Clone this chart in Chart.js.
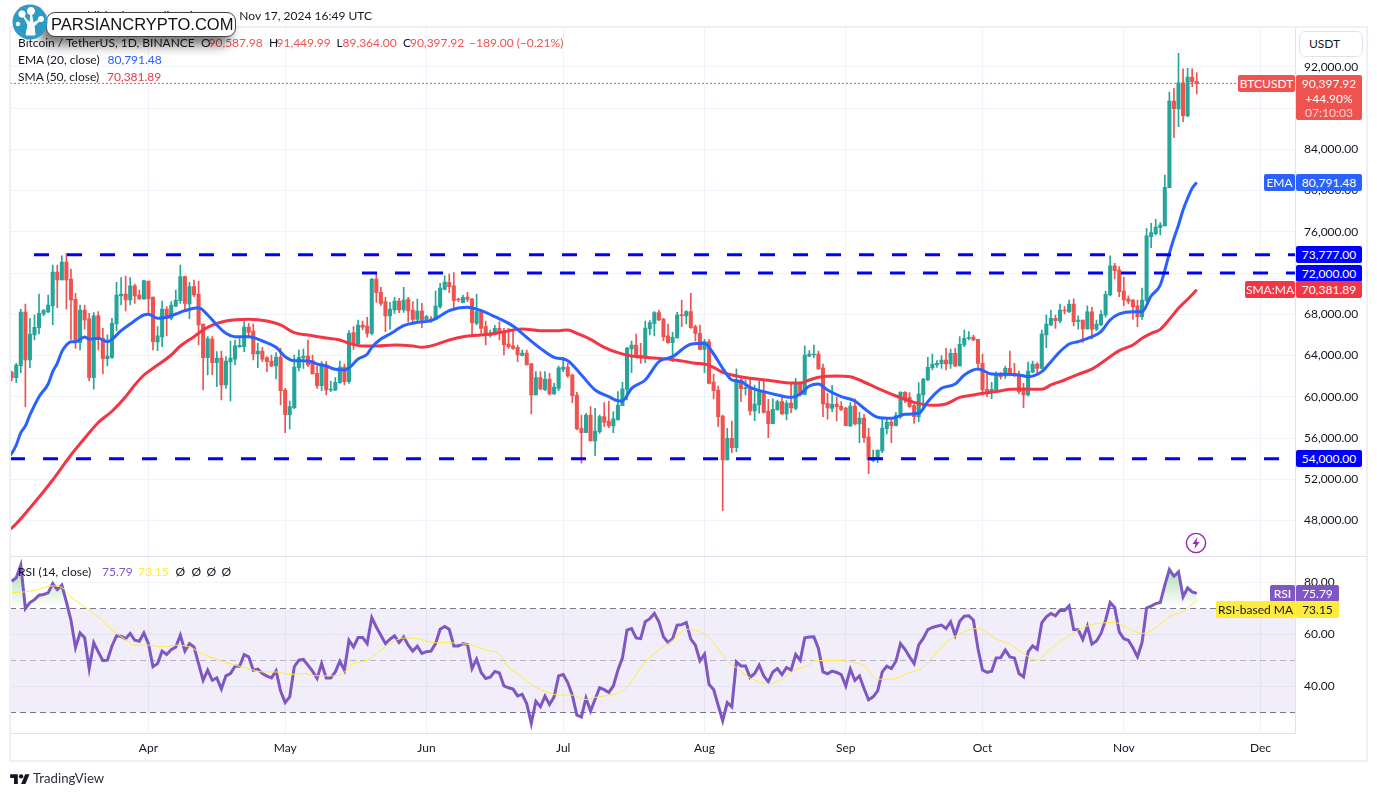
<!DOCTYPE html>
<html><head><meta charset="utf-8">
<style>
html,body{margin:0;padding:0;background:#fff;width:1377px;height:796px;overflow:hidden}
canvas{position:absolute;left:0;top:0}
.t{position:absolute;white-space:nowrap;font:12px/17px Lato,"Noto Sans",sans-serif;color:#131722}
.b{position:absolute;white-space:nowrap;font:12px/17px Lato,"Noto Sans",sans-serif;color:#fff;text-align:center;height:17px}
.r{color:#ef5350}
.frame{position:absolute;background:#eef0f6}
</style></head><body>
<canvas id="main" width="1377" height="796"></canvas>
<canvas id="rsi" width="1377" height="796"></canvas>
<script src="https://cdn.jsdelivr.net/npm/chart.js@4/dist/chart.umd.min.js"></script>
<script>
// Daily candles, day 0 = 2 Mar 2024 ... day 260 = 17 Nov 2024
const opens=[62370,61850,63020,68220,63570,66000,66700,68030,68220,68840,72100,71330,73070,71420,69450,65250,68420,67550,61850,67840,65670,63700,63830,67060,69780,69970,69390,70750,69870,69480,71230,69680,65320,65800,68510,67610,68800,69320,71650,69000,70680,69970,67060,63790,65600,63310,63760,61140,63380,63660,64860,64860,66770,66380,64150,64440,63790,63470,62990,63860,60660,58270,58940,62830,63760,63960,63500,62280,61080,63080,60660,60630,61370,62890,61470,
66220,65120,66960,66860,66150,71420,70130,69230,67840,68420,69290,68420,69450,68420,67510,68320,67450,67510,67510,68740,70420,71100,70750,69450,69160,69680,69480,67120,68260,66800,65930,66060,66640,66320,65120,64930,64800,64020,64250,63210,60170,61860,60690,61720,60270,60820,62660,62890,62110,60170,56940,56520,58230,55710,56620,58070,57650,57170,57750,59140,60720,64640,65020,64050,63890,66610,67120,68160,67540,65900,65250,65730,67930,67840,68260,
66800,66150,64600,65320,61430,60660,58140,53870,55970,55070,61630,60790,60880,58620,59200,60560,58620,57390,58720,59530,58330,59400,58880,61210,60240,63950,64050,64150,62790,59370,58880,59300,59110,58910,57170,59110,57360,57940,56100,53800,54100,54740,56910,57550,57200,58070,60430,59950,59140,58070,60170,61630,62820,63080,63210,63570,63180,64210,62990,65020,65670,65800,65570,63240,
60720,60600,60660,62180,62020,62760,62210,62120,60660,60170,62410,63180,62760,65990,66960,67610,67350,68420,68260,69000,67320,67450,66580,68230,66550,66960,67940,69870,72690,72300,70260,69490,69390,68810,67770,69330,75530,75820,76400,76570,80290,88690,87920,90440,87240,91020,90587.98];
const highs=[62500,63245,68480,69000,67610,67930,69970,68480,69870,72780,72780,73660,73910,72390,70030,68900,68900,68090,68160,68260,66640,66000,67610,71100,71550,71710,71550,70940,70360,71330,71230,69680,66800,69290,68740,69230,70360,72780,71710,71100,71330,71230,67060,65830,65830,64380,64440,63890,65410,65510,65670,67290,67120,67060,65180,64800,63890,64050,64280,64700,60820,59590,64050,64540,64630,65510,64050,62990,63410,63410,61530,61860,63470,63180,66410,
66800,67450,67350,67710,71490,72040,70620,69650,69160,69650,69550,70620,69650,69230,69480,69060,67900,67770,70260,71000,71720,71910,72040,69580,69870,70130,69550,69970,68480,67350,66480,66930,67290,66640,66640,66410,65020,64540,64540,63210,62440,62440,62440,62280,61300,62990,63830,63240,62210,60430,58230,58400,59040,58880,58230,59430,59590,58560,60500,61400,64800,65410,66090,65190,67350,67380,68260,68420,67610,67060,66250,68190,69390,68350,70030,
66960,66960,65570,65570,62210,61050,58230,56940,57650,62700,61790,61630,61790,61140,61530,61630,59750,59790,59690,60170,59620,61370,61790,61300,64930,64470,65020,64440,63180,60340,61110,59950,59530,58980,59430,59790,58490,58300,56940,54840,54840,58010,57910,58010,58490,60500,60500,60400,59300,61370,61790,63830,64150,63500,63990,64700,64630,64700,65830,66480,66320,65990,65570,64150,
62280,61400,62430,62340,62990,64440,63250,62500,61310,63370,63470,63310,66480,67930,68420,67930,69000,68740,69390,69490,67840,67450,68810,68680,67450,68360,70260,73660,72950,72620,71620,69780,69450,69390,70550,76340,76830,77210,76890,81510,89560,89920,93310,91800,91860,91800,91449.99];
const lows=[61530,61370,62340,59040,62830,65510,66090,67840,68160,67000,68640,71330,68510,65570,64700,64540,66570,61530,60750,64540,62210,62990,63730,66380,68900,68320,68900,69060,69450,69450,67930,64540,64470,64860,65900,67450,68740,69060,68260,67580,69710,65020,60660,62110,62110,60980,59690,60820,59590,63080,64800,64380,65770,63570,62830,63410,62440,62920,61730,59200,56520,56880,58850,62500,62760,62920,62210,60820,60590,60170,60500,60590,61300,61140,61300,
64600,65120,66480,65770,65990,69160,68840,66320,66570,68090,68160,68190,67250,67060,67220,66700,67380,67220,67510,68580,70360,70100,68420,69230,69100,69230,65990,66960,66150,65020,65770,65990,65510,64050,64700,64600,63410,63960,63080,58330,60170,60660,60590,60170,60240,60590,62440,61890,59430,56780,53550,56520,55710,54290,56450,57100,57000,56520,57750,59140,59690,62340,63800,63240,63310,65990,65900,67380,65410,65180,63410,65670,66800,67060,66640,
65410,64540,62340,61240,59790,57100,48960,53870,54580,54680,59530,60170,58230,57680,58400,58400,56030,57360,58720,58300,57750,58460,58720,60080,60170,63890,63800,62660,58070,57840,58560,57650,58650,57200,57100,57260,55550,55580,52540,53710,53610,54580,56390,55550,57170,57910,59430,58980,57420,57590,58880,61560,62600,62860,62760,62600,62760,62920,62990,64860,65510,65440,62860,60170,
60010,59820,60600,61700,61790,62020,61950,60270,58950,60080,62340,62120,62760,64770,66900,66640,67190,68030,68160,66870,66550,65280,66550,65610,66410,66900,67710,69780,71430,69710,68840,69000,67510,66800,67510,69230,74470,75700,75700,76570,80290,85140,86200,86690,87170,90080,89364];
const closes=[61850,63080,68220,63570,66090,66740,68090,68350,68900,72100,71330,73070,71330,69390,65350,68420,67450,61850,67840,65570,63700,63960,67120,69870,69970,69390,70750,69780,69480,71260,69480,65350,65900,68510,67610,68900,69390,71650,69060,70680,69870,66960,63790,65640,63310,63760,61140,63470,63760,64930,64990,66770,66250,64150,64440,63660,63410,62990,63860,60590,58270,59040,62890,63830,63960,63080,62210,61080,63180,60660,60750,61400,62890,61470,66150,
65180,66960,66740,66150,71420,70100,69060,67840,68510,69290,68420,69390,68320,67510,68320,67450,67770,67450,68800,70550,71130,70680,69320,69390,69650,69450,67190,68260,66640,66090,66090,66640,66220,65060,64860,64700,64050,64250,63080,60170,61860,60760,61720,60270,60950,62820,62890,62020,60110,56880,56520,58230,55710,56680,58070,57520,57170,57850,59200,60760,64730,65020,63890,63830,66670,67190,68160,67450,65800,65250,65770,67930,67870,68260,66700,
66150,64600,65350,61300,60590,58070,53870,55970,55070,61690,60790,60880,58620,59300,60560,58490,57390,58780,59530,58330,59400,58910,61210,60170,64050,64150,64150,62700,59300,58910,59270,59040,58780,57200,59110,57360,57940,56030,53870,54130,54840,56970,57550,57200,58170,60430,59820,59040,58070,60270,61720,62860,63180,63240,63570,63180,64210,62990,65090,65670,65770,65510,63240,60660,
60530,60720,62180,61950,62760,62120,62080,60500,60170,62500,63180,62760,66090,67060,67610,67390,68420,68320,69000,67290,67450,66580,68230,66550,67060,68000,69940,72690,72230,70200,69390,69260,68740,67770,69390,75600,75920,76470,76660,80320,88690,87950,90440,87270,91020,90570,90397.92];

const emaDays=[-1,0,1,2,3,4,6,8,9,10,11,12,13,14,16,17,19,21,22,24,26,28,29,30,32,34,36,38,41,43,45,47,49,52,55,58,60,62,65,67,69,71,73,74,76,78,79,81,83,86,89,92,94,96,100,103,106,110,113,116,119,122,125,128,131,133,134,136,139,142,145,149,152,154,156,158,160,162,165,168,171,173,175,177,179,182,185,187,190,193,196,199,201,204,207,209,212,215,218,221,223,226,228,230,232,234,237,239,241,243,246,248,250,252,254,255,256,257,258,259,260];
const emaValues=[54100,54515,55325,56520,57166,58234,60012,61240,62437,63245,64377,65023,65346,65346,65800,65605,65670,65346,65573,66413,67060,67693,67933,67997,67610,67707,68030,68353,68644,67933,66963,66155,65831,65831,65411,64797,63891,63503,63471,63180,62986,62663,62598,62800,63665,64118,64797,65605,66090,66898,67221,67383,67836,68353,68676,68353,67771,66866,65766,64699,63826,63503,62113,60658,60012,59624,59600,60820,61628,63406,63891,65100,65184,64150,62760,61628,61467,60917,60496,60173,59947,60270,61046,61240,60658,60012,59591,58880,58007,57910,58298,58395,59527,60819,61240,62113,62695,62212,62180,62115,61953,62439,63408,64379,65122,65348,65833,66318,67450,68032,68258,68258,69777,70844,73916,75371,76664,78119,79250,80220,80791.48];
const smaDays=[-1,0,4,9,13,16,19,22,25,27,29,31,35,37,40,42,44,47,52,56,59,62,65,68,72,74,77,80,84,88,90,93,96,99,103,107,110,112,116,120,122,124,127,130,133,136,140,144,148,150,152,154,156,158,162,166,170,173,175,177,181,184,186,190,194,198,202,205,208,211,213,216,219,222,226,228,231,234,237,240,243,246,248,250,252,254,256,258,260];
const smaValues=[47000,47271,49210,51930,54354,55971,57500,58600,60011,61143,62113,62760,64053,64926,65831,66474,66950,67351,67512,67351,66963,66219,65993,65767,65508,65185,64926,64926,65023,64926,64797,65055,65508,65831,65993,66219,66478,66575,66413,66413,66478,66154,65573,64797,64279,63956,63794,63665,63406,63245,63180,62857,62372,62113,61790,61596,61369,61337,61628,61887,62016,61951,61628,60820,60076,59462,59171,59300,59947,60173,60337,60499,60726,60758,60726,61145,61630,62180,62690,63570,64476,65025,65672,66156,66544,67515,68581,69454,70381.89];

const rsiValues=[80.5,81.8,86.7,70.0,72.3,73.4,75.1,75.4,76.0,79.6,77.3,79.0,72.5,65.5,55.0,60.6,58.8,46.9,56.8,53.3,49.9,50.1,55.6,59.5,59.3,58.4,60.4,57.8,57.4,60.6,56.5,47.6,48.8,53.6,52.3,54.2,55.2,59.7,53.6,56.5,55.2,48.8,42.4,46.3,42.4,43.3,39.0,44.1,45.0,47.8,47.8,52.3,51.4,46.3,46.7,45.0,44.0,43.3,46.0,38.2,33.8,36.0,47.6,50.1,50.4,48.2,45.9,43.1,48.8,43.3,43.3,45.6,49.7,46.3,57.8,55.2,58.8,58.8,56.5,66.5,62.9,59.7,56.5,58.2,59.5,56.9,59.1,55.9,53.6,55.5,52.7,53.4,53.6,56.5,62.0,63.1,62.0,55.6,55.6,
56.5,56.1,46.9,50.5,45.4,43.1,43.6,45.8,45.2,40.2,39.5,39.0,36.4,37.0,33.4,25.8,34.3,32.2,36.3,33.1,36.0,44.1,44.6,41.5,36.7,29.0,28.3,35.6,30.6,35.1,39.5,38.8,37.7,40.2,46.3,51.0,61.7,62.3,58.7,58.4,64.9,66.1,68.1,64.9,59.1,56.9,58.4,63.6,63.8,64.6,58.2,55.9,49.9,52.4,40.8,38.8,32.8,26.8,33.8,32.2,49.5,47.9,47.9,43.5,45.0,48.2,44.1,41.8,45.6,46.9,44.6,47.3,46.3,52.3,50.1,58.7,59.0,59.1,54.6,45.6,44.9,45.9,45.4,44.6,40.2,46.7,42.4,44.1,39.2,34.9,36.0,38.3,45.6,47.8,46.9,49.7,56.5,54.3,51.4,48.8,
56.0,58.5,61.9,62.7,63.2,63.6,62.3,64.9,59.7,65.1,67.0,67.2,65.5,54.6,46.3,45.4,45.9,51.0,51.1,54.0,51.4,51.0,45.0,43.7,53.3,55.6,54.3,64.5,66.8,68.1,67.2,69.3,69.2,71.0,61.9,61.8,58.1,63.2,56.3,57.5,60.4,65.5,72.3,70.4,61.0,58.4,57.8,54.9,51.4,56.9,70.2,70.9,71.9,72.3,79.0,85.0,82.4,84.1,74.5,77.9,76.4,75.79];
const maDays=[0,3,5,9,11,13,16,19,22,25,27,30,33,36,39,42,45,49,52,55,58,61,64,67,71,73,75,78,81,83,86,89,93,95,98,101,104,107,109,112,114,117,120,123,126,128,131,134,136,139,142,145,148,152,155,157,159,162,166,169,172,175,176,181,185,187,190,193,197,199,200,204,207,212,216,219,222,225,228,232,236,242,245,248,251,254,257,260];
const maValues=[76.1,76.4,77.0,78.7,78.1,74.5,70.6,66.8,61.7,58.1,55.9,55.9,55.2,55.9,55.2,52.4,50.4,48.2,46.9,45.6,45.6,44.6,45.0,44.1,44.1,45.6,48.8,50.1,54.0,56.5,58.7,58.4,56.8,56.9,56.6,55.9,54.0,52.4,47.5,43.7,40.8,38.2,36.7,36.7,35.0,35.8,36.7,38.2,42.0,49.5,54.0,57.8,62.0,60.1,54.6,49.9,47.2,43.3,41.1,42.8,46.5,48.2,49.9,50.0,49.2,47.9,42.8,42.8,45.4,46.4,47.5,55.2,59.3,62.3,58.2,56.2,52.7,50.1,54.6,59.5,63.3,64.6,62.3,60.4,62.6,66.8,69.0,73.15];

const priceTicks=[48000,52000,56000,60000,64000,68000,72000,76000,80000,84000,88000,92000];
const rsiTicks=[40,60,80];
const monthDays=[30,60,91,121,152,183,213,244,274];
const monthNames=['Apr','May','Jun','Jul','Aug','Sep','Oct','Nov','Dec'];
const levels=[73777,72000,54000];
const levelStart=[4.89,76.86,-0.373];
const lastClose=90397.92, lastEma=80791.48, lastSma=70381.89, lastRsi=75.79, lastMa=73.15;

const UP='#26a69a',DN='#ef5350',GRID='#f0f3fa',LINE='#e0e3eb',TXT='#131722';
const XMIN=-0.373,XMAX=281.56;
const FONT='Lato';
const days=closes.map((_,i)=>i);
const colors=days.map(i=>closes[i]>=opens[i]?UP:DN);
const xy=(xs,ys)=>xs.map((x,i)=>({x,y:ys[i]}));
const noPad=s=>{s.paddingTop=s.paddingBottom=s.paddingLeft=s.paddingRight=0};
const xScale=(h,show)=>({type:'linear',min:XMIN,max:XMAX,offset:false,
  grid:{color:GRID,offset:false,drawTicks:false,lineWidth:1},
  border:{display:show,color:LINE},
  ticks:{display:show,autoSkip:false,maxRotation:0,padding:7,color:TXT,font:{family:FONT,size:12},
    callback:v=>{const k=monthDays.indexOf(v);return k<0?'':monthNames[k]}},
  afterBuildTicks:s=>{s.ticks=monthDays.map(value=>({value}))},
  afterFit:s=>{s.height=h;noPad(s)}});
const yScale=(min,max,ticks,fmt)=>({type:'linear',position:'right',min,max,
  grid:{color:GRID,drawTicks:false},border:{display:true,color:LINE},
  ticks:{padding:9,color:TXT,font:{family:FONT,size:12},callback:fmt,autoSkip:false},
  afterBuildTicks:s=>{s.ticks=ticks.map(value=>({value}))},
  afterFit:s=>{s.width=72;noPad(s)}});
const level=(v,from,order)=>({type:'line',data:xy([from,XMAX],[v,v]),borderColor:'#0000ff',borderWidth:3,borderDash:[15,18],pointRadius:0,order});

const mainChart=new Chart(document.getElementById('main'),{
  type:'bar',
  data:{datasets:[
    {type:'bar',data:days.map(i=>({x:i,y:[lows[i],highs[i]]})),backgroundColor:colors,barThickness:1,grouped:false,order:6},
    {type:'bar',data:days.map(i=>({x:i,y:[Math.min(opens[i],closes[i]),Math.max(opens[i],closes[i])]})),backgroundColor:colors,barThickness:3.4,minBarLength:1,grouped:false,order:5},
    {type:'line',data:xy(smaDays,smaValues),borderColor:'#f23645',borderWidth:3,pointRadius:0,cubicInterpolationMode:'monotone',order:4},
    {type:'line',data:xy(emaDays,emaValues),borderColor:'#2962ff',borderWidth:3,pointRadius:0,cubicInterpolationMode:'monotone',order:3},
    level(levels[0],levelStart[0],2),level(levels[1],levelStart[1],2),level(levels[2],levelStart[2],2),
    {type:'line',data:xy([XMIN,XMAX],[lastClose,lastClose]),borderColor:DN,borderWidth:1,borderDash:[2,2],pointRadius:0,order:1}
  ]},
  options:{responsive:false,animation:false,devicePixelRatio:1,events:[],
    layout:{padding:{left:10,right:10,top:27.5,bottom:240}},
    plugins:{legend:{display:false},tooltip:{enabled:false}},
    scales:{x:xScale(0,false),y:yScale(44557,95818,priceTicks,v=>v.toLocaleString('en-US',{minimumFractionDigits:2,maximumFractionDigits:2}))}}
});

const rc=document.getElementById('rsi').getContext('2d');
const grad=rc.createLinearGradient(0,578,0,608);
grad.addColorStop(0,'rgba(76,175,80,0.32)');grad.addColorStop(1,'rgba(76,175,80,0)');
const rsiChart=new Chart(rc,{
  type:'line',
  data:{datasets:[
    {data:xy(days,rsiValues),borderColor:'#7e57c2',borderWidth:3,pointRadius:0,fill:{target:{value:70},above:grad,below:'rgba(0,0,0,0)'},order:1},
    {data:xy(maDays,maValues),borderColor:'#ffeb3b',borderWidth:1,pointRadius:0,cubicInterpolationMode:'monotone',order:0},
    {data:xy([XMIN,XMAX],[70,70]),borderColor:'#787b86',borderWidth:1,borderDash:[6,4],pointRadius:0,fill:{target:4},backgroundColor:'rgba(126,87,194,0.1)',order:3},
    {data:xy([XMIN,XMAX],[50,50]),borderColor:'rgba(120,123,134,0.5)',borderWidth:1,borderDash:[6,4],pointRadius:0,order:3},
    {data:xy([XMIN,XMAX],[30,30]),borderColor:'#787b86',borderWidth:1,borderDash:[6,4],pointRadius:0,order:3}
  ]},
  options:{responsive:false,animation:false,devicePixelRatio:1,events:[],
    layout:{padding:{left:10,right:10,top:556.5,bottom:35}},
    plugins:{legend:{display:false},tooltip:{enabled:false}},
    scales:{x:xScale(27.5,true),y:yScale(21.92,90,rsiTicks,v=>v.toFixed(2))}}
});

// text overlays placed from the library's scales
const el=(cls,txt,css)=>{const d=document.createElement('div');d.className=cls;d.textContent=txt;Object.assign(d.style,css);document.body.appendChild(d);return d};
const frame=(l,t,w,h,c)=>{const d=el('frame','',{left:l+'px',top:t+'px',width:w+'px',height:h+'px'});if(c)d.style.background=c};
frame(9,26,1359,2);frame(9,760,1359,2);frame(9,26,2,736);frame(1366,26,2,736);frame(10,556,1357,1,LINE);
const yM=v=>mainChart.scales.y.getPixelForValue(v), yR=v=>rsiChart.scales.y.getPixelForValue(v);
const tag=(txt,l,r,y,bg,col)=>el('b',txt,{left:l+'px',width:(r-l)+'px',top:Math.round(y-8.5)+'px',background:bg,color:col||'#fff',borderRadius:'2px'});
const f2=v=>v.toLocaleString('en-US',{minimumFractionDigits:2,maximumFractionDigits:2});
levels.forEach(v=>tag(f2(v),1296,1362,yM(v),'#0000ff'));
tag('EMA',1264,1295,yM(lastEma),'#2962ff');tag(f2(lastEma),1296,1362,yM(lastEma),'#2962ff');
tag('SMA:MA',1245,1295,yM(lastSma),'#f23645');tag(f2(lastSma),1296,1362,yM(lastSma),'#f23645');
tag('BTCUSDT',1238,1295,yM(lastClose),DN);
const pb=el('b','',{left:'1296px',width:'66px',top:Math.round(yM(lastClose)-8.5)+'px',height:'45px',background:DN,borderRadius:'2px'});
pb.innerHTML='<div style="line-height:17px">'+f2(lastClose)+'</div><div style="line-height:13px">+44.90%</div><div style="line-height:15px;color:#fbd5d4">07:10:03</div>';
const rsiTagY=yR(lastRsi), maTagY=rsiTagY+16.5; // stacked so the two badges do not cover each other
tag('RSI',1270,1295,rsiTagY,'#7e57c2');tag(lastRsi.toFixed(2),1296,1339,rsiTagY,'#7e57c2');
tag('RSI-based MA',1216,1295,maTagY,'#ffeb3b',TXT);tag(lastMa.toFixed(2),1296,1339,maTagY,'#ffeb3b',TXT);

el('t','USDT',{left:'1299px',top:'31px',width:'62px',height:'24px',lineHeight:'24px',border:'1px solid #e0e3eb',borderRadius:'6px',textAlign:'left',textIndent:'9px',background:'#fff'});
const T=(x,y,s,c)=>el('t',s,{left:x+'px',top:(y-8.5)+'px',color:c||TXT});
T(18,42,'Bitcoin / TetherUS, 1D, BINANCE');
T(201,42,'O');T(208.5,42,'90,587.98',DN);T(269,42,'H');T(276.5,42,'91,449.99',DN);T(336.5,42,'L');T(342.5,42,'89,364.00',DN);T(403,42,'C');T(410,42,'90,397.92',DN);T(469,42,'−189.00 (−0.21%)',DN);
T(18,59,'EMA (20, close)');T(107.5,59,'80,791.48','#2962ff');
T(18,76,'SMA (50, close)');T(107,76,'70,381.89','#f23645');
T(18,571.5,'RSI (14, close)');T(102,571.5,'75.79','#7e57c2');T(138,571.5,'73.15','#ffeb3b');
[175.5,191.5,206.5,221.5].forEach(x=>T(x,571.5,'Ø'));
el('t','Published on TradingView.com, Nov 17, 2024 16:49 UTC',{right:(1377-372)+'px',top:'6.5px'});
el('t','TradingView',{left:'33px',top:'769px',font:'13.2px/18px Lato,sans-serif',color:'#2a2e39'});
</script>
<!-- watermark and icons -->
<div style="position:absolute;left:46px;top:12px;width:190px;height:25px;box-sizing:border-box;background:#fff;border:1px solid #444;border-radius:9px;box-shadow:-6px 8px 12px rgba(0,0,0,.55);font:500 16.5px/23px 'Liberation Sans',Arial,sans-serif;color:#111;padding-left:4px;white-space:nowrap">PARSIANCRYPTO.COM</div>
<svg style="position:absolute;left:11px;top:4px" width="38" height="36" viewBox="0 0 38 36">
<circle cx="19" cy="18" r="17.5" fill="#2f9bc4"/>
<g fill="#fff" stroke="#fff"><circle cx="11" cy="10" r="3.2"/><circle cx="20" cy="7" r="3.6"/><circle cx="30" cy="15" r="2.6"/><circle cx="7" cy="20" r="1.8"/>
<path d="M15 31 L17 21 Q14 15 11 10 Q15 15 19 19 L20 7 L22 19 Q26 17 30 15 Q26 20 23 22 L24 31 Z" stroke-width="1"/></g></svg>
<svg style="position:absolute;left:1185px;top:532px" width="22" height="22" viewBox="0 0 22 22"><circle cx="11" cy="11" r="9.6" fill="#fff" stroke="#9c27b0" stroke-width="1.4"/><path d="M12.5 5 L7.5 12 H10.5 L9.5 17 L14.5 10 H11.5 Z" fill="#9c27b0"/></svg>
<svg style="position:absolute;left:10px;top:772px" width="20" height="12" viewBox="0 0 36 22"><path d="M14 22H7V11H0V4h14v18zM28 22h-8l7.5-18h8L28 22z" fill="#131722"/><circle cx="20" cy="8" r="4" fill="#131722"/></svg>
</body></html>
